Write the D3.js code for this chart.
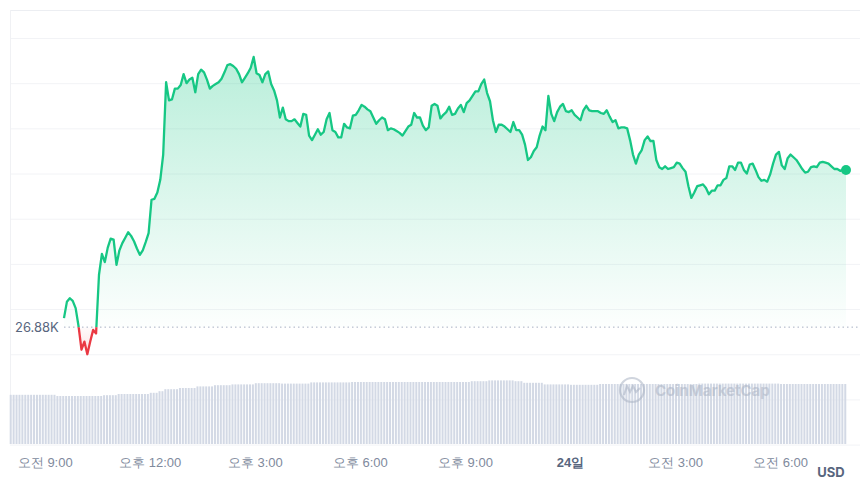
<!DOCTYPE html>
<meta charset="utf-8">
<script src="https://d3js.org/d3.v7.min.js"></script>

<style>
body {
  margin: 0;
  background-color: #FFFFFF;
  font-family: "Inter", "Noto Sans CJK KR", sans-serif;
}
.grid line {
  stroke: #f2f3f6;
}
.xaxis text {
  fill: #808a9d;
  font-size: 13px;
}
</style>

<svg id="chart" width="860" height="487"></svg>

<script>
// price, 5 minute candles starting at priceStart (USD)
const priceStart = "2023-08-23T09:33";
const prices = [
  26890, 26908, 26912, 26909, 26901, 26881, 26855, 26864, 26850, 26864, 26877, 26873,
  26938, 26961, 26952, 26968, 26978, 26977, 26949, 26965, 26973, 26979, 26985, 26981,
  26975, 26967, 26960, 26965, 26974, 26984, 27021, 27022, 27029, 27043, 27071, 27151,
  27131, 27132, 27144, 27144, 27148, 27160, 27150, 27154, 27156, 27140, 27160, 27165,
  27162, 27154, 27144, 27147, 27149, 27151, 27155, 27162, 27170, 27171, 27169, 27166,
  27160, 27151, 27156, 27161, 27167, 27179, 27161, 27159, 27151, 27160, 27163, 27149,
  27142, 27131, 27112, 27123, 27110, 27108, 27108, 27110, 27106, 27102, 27116, 27115,
  27092, 27087, 27093, 27099, 27093, 27096, 27110, 27117, 27098, 27096, 27090, 27090,
  27105, 27101, 27100, 27114, 27115, 27120, 27126, 27124, 27121, 27119, 27112, 27105,
  27109, 27112, 27110, 27098, 27100, 27099, 27097, 27095, 27092, 27097, 27102, 27104,
  27117, 27112, 27112, 27103, 27098, 27101, 27125, 27127, 27125, 27111, 27115, 27118,
  27124, 27115, 27116, 27122, 27126, 27118, 27128, 27131, 27136, 27141, 27141, 27149,
  27154, 27139, 27130, 27109, 27096, 27104, 27104, 27102, 27099, 27096, 27107, 27098,
  27098, 27093, 27082, 27065, 27068, 27075, 27079, 27092, 27102, 27098, 27136, 27116,
  27108, 27118, 27124, 27127, 27119, 27118, 27120, 27115, 27112, 27109, 27120, 27125,
  27120, 27119, 27119, 27119, 27117, 27116, 27120, 27113, 27107, 27109, 27100, 27101,
  27101, 27100, 27087, 27071, 27061, 27071, 27076, 27087, 27091, 27086, 27086, 27065,
  27057, 27055, 27058, 27055, 27056, 27057, 27062, 27061, 27056, 27052, 27036, 27023,
  27029, 27036, 27037, 27038, 27034, 27027, 27031, 27031, 27037, 27037, 27043, 27045,
  27058, 27058, 27054, 27062, 27062, 27054, 27050, 27060, 27061, 27054, 27046, 27042,
  27043, 27041, 27049, 27061, 27071, 27074, 27059, 27055, 27067, 27071, 27068, 27065,
  27060, 27055, 27051, 27052, 27057, 27058, 27057, 27062, 27063, 27062, 27061, 27058,
  27055, 27055, 27053, 27054, 27054
];

// 24h volume (billion USD), 5 minute bars starting at volumeStart
const volumeStart = "2023-08-23T08:00";
const volumes = [
  12.3, 12.3, 12.3, 12.3, 12.3, 12.3, 12.3, 12.3, 12.3, 12.3, 12.3, 12.3, 12.3, 12.3, 12.3, 12.3,
  12.0, 12.0, 12.0, 12.0, 12.0, 12.0, 12.0, 12.0, 12.0, 12.0, 12.0, 12.0, 12.0, 12.0, 12.0, 12.0,
  12.2, 12.2, 12.2, 12.2, 12.2,
  12.5, 12.5, 12.5, 12.5, 12.5, 12.5, 12.5, 12.5, 12.5, 12.5, 12.5,
  12.8, 12.8, 12.8, 13.2, 13.2,
  13.7, 13.7, 13.7, 13.7, 13.7, 14.0, 14.0, 14.0, 14.0, 14.0, 14.0,
  14.4, 14.4, 14.4, 14.4, 14.4, 14.4, 14.7, 14.7, 14.7, 14.7, 14.7, 14.7,
  14.9, 14.9, 14.9, 14.9, 14.9, 14.9, 14.9, 14.9,
  15.2, 15.2, 15.2, 15.2, 15.2, 15.2, 15.2, 15.2, 15.2,
  15.1, 15.1, 15.1, 15.1, 15.1, 15.1, 15.1, 15.1, 15.1, 15.1,
  15.4, 15.4, 15.4, 15.4, 15.4, 15.4, 15.4, 15.4, 15.4, 15.4, 15.4, 15.4, 15.4, 15.4,
  15.5, 15.5, 15.5, 15.5, 15.5, 15.5, 15.5, 15.5, 15.5, 15.5, 15.5, 15.5, 15.5, 15.5,
  15.5, 15.5, 15.5, 15.5, 15.5, 15.5, 15.5, 15.5, 15.5, 15.5, 15.5, 15.5, 15.5, 15.5,
  15.5, 15.5, 15.5, 15.5, 15.5, 15.5, 15.5, 15.5, 15.5, 15.5, 15.5, 15.5, 15.5,
  15.7, 15.7, 15.7, 15.7, 15.7, 15.7,
  15.9, 15.9, 15.9, 15.9, 15.9, 15.9, 15.9, 15.9, 15.9,
  15.7, 15.7, 15.7, 15.3, 15.3, 15.3, 15.3, 15.3, 15.3, 15.3,
  14.9, 14.9, 14.9, 14.9, 14.9, 14.9, 14.9, 14.9, 14.9,
  14.8, 14.8, 14.8, 14.8, 14.8, 14.8, 14.8, 14.8, 14.8, 14.8,
  15.0, 15.0, 15.0, 15.0, 15.0, 15.0, 15.0, 15.0, 15.0, 15.0, 15.0, 15.0, 15.0, 15.0, 15.0, 15.0, 15.0,
  15.0, 15.0, 15.0, 15.0, 15.0, 15.0, 15.0, 15.0, 15.0, 15.0, 15.0, 15.0, 15.0, 15.0, 15.0, 15.0, 15.0,
  15.1, 15.1, 15.1, 15.1, 15.1, 15.1, 15.1, 15.1, 15.1, 15.1, 15.1, 15.1, 15.1, 15.1,
  15.1, 15.1, 15.1, 15.1, 15.1, 15.1, 15.1, 15.1, 15.1, 15.1, 15.1, 15.1, 15.1, 15.1,
  15.0, 15.0, 15.0, 15.0, 15.0, 15.0, 15.0, 15.0, 15.0, 15.0, 15.0, 15.0,
  15.0, 15.0, 15.0, 15.0, 15.0, 15.0, 15.0, 15.0, 15.0, 15.0, 15.0
];

const gridTicks = [26750, 26800, 26850, 26900, 26950, 27000, 27050, 27100, 27150, 27200];
const tickTimes = ["2023-08-23T09:00", "2023-08-23T12:00", "2023-08-23T15:00", "2023-08-23T18:00",
                   "2023-08-23T21:00", "2023-08-24T00:00", "2023-08-24T03:00", "2023-08-24T06:00"];
const tickLabels = ["오전 9:00", "오후 12:00", "오후 3:00", "오후 6:00", "오후 9:00", "24일", "오전 3:00", "오전 6:00"];
const openPrice = 26880;
const openLabel = "26.88K";

const green = "#16c784", red = "#ea3943";

const svg = d3.select("#chart");

const x = d3.scaleTime()
  .domain([new Date("2023-08-23T08:00"), new Date("2023-08-24T08:00")])
  .range([9.7, 850.1]);
const y = d3.scaleLinear().domain([26750, 27200]).range([444.6, 38]);
const yVol = d3.scaleLinear().domain([0, 16]).range([444, 380]);

const priceData = prices.map((p, i) => ({t: d3.timeMinute.offset(new Date(priceStart), i * 5), p: p}));
const volData = volumes.map((v, i) => ({t: d3.timeMinute.offset(new Date(volumeStart), i * 5), v: v}));
const yBase = y(openPrice);

// frame + grid
svg.append("g")
  .attr("class", "grid")
  .attr("transform", "translate(10,0)")
  .call(d3.axisLeft(y).tickValues(gridTicks).tickSize(-850).tickFormat(""))
  .call(g => g.select(".domain").remove());
svg.append("line").attr("x1", 10).attr("x2", 860).attr("y1", 10.5).attr("y2", 10.5).attr("stroke", "#eceef2");
svg.append("line").attr("x1", 10.5).attr("x2", 10.5).attr("y1", 10).attr("y2", 444).attr("stroke", "#f0f1f4");

// volume bars
svg.append("g").selectAll("rect")
  .data(volData)
  .enter().append("rect")
  .attr("x", d => x(d.t))
  .attr("width", 2)
  .attr("y", d => yVol(d.v))
  .attr("height", d => 444 - yVol(d.v))
  .attr("fill", "#d3d9e5");

// watermark
const wm = svg.append("g").attr("opacity", 0.55);
wm.append("circle").attr("cx", 632).attr("cy", 390).attr("r", 12)
  .attr("fill", "none").attr("stroke", "#aab3c4").attr("stroke-width", 2.2);
wm.append("path").attr("d", "M624,395 L627,386 L630,392 L633,386 L636,392 L640,388")
  .attr("fill", "none").attr("stroke", "#aab3c4").attr("stroke-width", 2);
wm.append("text").attr("x", 655).attr("y", 395.5)
  .attr("font-size", 15).attr("font-weight", 700).attr("fill", "#aab3c4")
  .text("CoinMarketCap");

// clip above / below the open price
const defs = svg.append("defs");
defs.append("clipPath").attr("id", "clipUp")
  .append("rect").attr("x", 0).attr("y", 0).attr("width", 860).attr("height", yBase);
defs.append("clipPath").attr("id", "clipDown")
  .append("rect").attr("x", 0).attr("y", yBase).attr("width", 860).attr("height", 487 - yBase);

const gUp = defs.append("linearGradient").attr("id", "gradUp")
  .attr("gradientUnits", "userSpaceOnUse").attr("x1", 0).attr("x2", 0).attr("y1", y(27180)).attr("y2", yBase);
gUp.append("stop").attr("offset", 0).attr("stop-color", green).attr("stop-opacity", 0.3);
gUp.append("stop").attr("offset", 1).attr("stop-color", green).attr("stop-opacity", 0.01);
const gDown = defs.append("linearGradient").attr("id", "gradDown")
  .attr("gradientUnits", "userSpaceOnUse").attr("x1", 0).attr("x2", 0).attr("y1", yBase).attr("y2", y(26850));
gDown.append("stop").attr("offset", 0).attr("stop-color", red).attr("stop-opacity", 0.02);
gDown.append("stop").attr("offset", 1).attr("stop-color", red).attr("stop-opacity", 0.15);

const area = d3.area().x(d => x(d.t)).y0(yBase).y1(d => y(d.p));
const line = d3.line().x(d => x(d.t)).y(d => y(d.p));

svg.append("path").datum(priceData).attr("d", area)
  .attr("fill", "url(#gradUp)").attr("clip-path", "url(#clipUp)");
svg.append("path").datum(priceData).attr("d", area)
  .attr("fill", "url(#gradDown)").attr("clip-path", "url(#clipDown)");

// open price reference
svg.append("line")
  .attr("x1", 64).attr("x2", 860).attr("y1", yBase).attr("y2", yBase)
  .attr("stroke", "#a6b0c3").attr("stroke-width", 1).attr("stroke-dasharray", "1.5,3");
svg.append("text")
  .attr("x", 15).attr("y", yBase + 1)
  .attr("dominant-baseline", "middle")
  .attr("font-size", 13).attr("fill", "#58667e")
  .text(openLabel);

svg.append("path").datum(priceData).attr("d", line)
  .attr("fill", "none").attr("stroke", green).attr("stroke-width", 2.3)
  .attr("stroke-linejoin", "round").attr("clip-path", "url(#clipUp)");
svg.append("path").datum(priceData).attr("d", line)
  .attr("fill", "none").attr("stroke", red).attr("stroke-width", 2.3)
  .attr("stroke-linejoin", "round").attr("clip-path", "url(#clipDown)");

const last = priceData[priceData.length - 1];
svg.append("circle").attr("cx", x(last.t)).attr("cy", y(last.p)).attr("r", 5).attr("fill", green);

// x axis
svg.append("g")
  .attr("class", "xaxis")
  .attr("transform", "translate(0,444)")
  .call(d3.axisBottom(x)
    .tickValues(tickTimes.map(d => new Date(d)))
    .tickFormat((d, i) => tickLabels[i])
    .tickSize(0)
    .tickPadding(14))
  .call(g => g.select(".domain").remove())
  .selectAll("text")
  .filter((d, i) => tickLabels[i] === "24일")
  .attr("font-weight", 700)
  .style("fill", "#58667e");

svg.append("text")
  .attr("x", 831).attr("y", 477)
  .attr("text-anchor", "middle")
  .attr("font-size", 13).attr("font-weight", 700).attr("fill", "#58667e")
  .text("USD");
</script>
